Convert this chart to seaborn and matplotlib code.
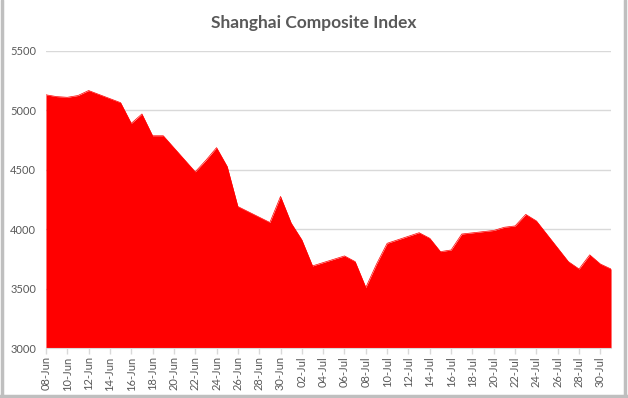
import pandas as pd
import numpy as np
import seaborn as sns
import matplotlib.pyplot as plt
import matplotlib.dates as mdates
from matplotlib.lines import Line2D

# trading days, Jun-Jul 2015
dates = ['2015-06-08','2015-06-09','2015-06-10','2015-06-11','2015-06-12',
         '2015-06-15','2015-06-16','2015-06-17','2015-06-18','2015-06-19',
         '2015-06-22','2015-06-23','2015-06-24','2015-06-25','2015-06-26',
         '2015-06-29','2015-06-30','2015-07-01','2015-07-02','2015-07-03',
         '2015-07-06','2015-07-07','2015-07-08','2015-07-09','2015-07-10',
         '2015-07-13','2015-07-14','2015-07-15','2015-07-16','2015-07-17',
         '2015-07-20','2015-07-21','2015-07-22','2015-07-23','2015-07-24',
         '2015-07-27','2015-07-28','2015-07-29','2015-07-30','2015-07-31']
close = [5128, 5113, 5107, 5122, 5164,
         5062, 4888, 4967, 4784, 4784,
         4481, 4578, 4684, 4525, 4189,
         4055, 4274, 4050, 3909, 3690,
         3774, 3726, 3509, 3705, 3880,
         3969, 3922, 3810, 3824, 3958,
         3988, 4015, 4026, 4123, 4068,
         3726, 3664, 3783, 3706, 3664]
yticks = [3000, 3500, 4000, 4500, 5000, 5500]

d = pd.DataFrame({'date': pd.to_datetime(dates), 'close': close})

sns.set_style('white')
plt.rcParams['font.family'] = ['Lato', 'DejaVu Sans']

fig = plt.figure(figsize=(6.28, 3.98), dpi=100)
ax = fig.add_axes([0.0732, 0.1256, 0.8998, 0.7474])

ax.fill_between(d['date'], d['close'], 3000, color='#FF0000', linewidth=0, zorder=2)
sns.lineplot(data=d, x='date', y='close', color='#FF0000', linewidth=0.5, ax=ax, zorder=3)

ax.set_ylim(3000, 5500)
ax.set_xlim(d['date'].iloc[0], d['date'].iloc[-1])
ax.set_yticks(yticks)
ax.set_yticklabels([str(v) for v in yticks])
ax.yaxis.grid(True, color='#d9d9d9', linewidth=1, zorder=0)
ax.set_axisbelow(True)

tick_dates = pd.date_range('2015-06-08', '2015-07-31', freq='2D')
ax.set_xticks(tick_dates)
ax.xaxis.set_major_formatter(mdates.DateFormatter('%d-%b'))
plt.setp(ax.get_xticklabels(), rotation=90)

ax.tick_params(axis='x', which='major', length=4, width=1, color='#d9d9d9',
               labelsize=8, labelcolor='#595959', pad=2, bottom=True, direction='out')
ax.tick_params(axis='y', length=0, labelsize=8, labelcolor='#595959', pad=7)
for s in ['top', 'right', 'left']:
    ax.spines[s].set_visible(False)
ax.spines['bottom'].set_color('#d9d9d9')
ax.set_xlabel('')
ax.set_ylabel('')

fig.text(0.5, 0.943, 'Shanghai Composite Index', ha='center', va='center',
         fontsize=12.5, fontweight='bold', color='#595959')

# outer chart border
for xs, ys in [([0.003, 0.003], [0, 1]), ([0.995, 0.995], [0, 1]), ([0, 1], [0.006, 0.006])]:
    fig.add_artist(Line2D(xs, ys, transform=fig.transFigure, color='#bfbfbf', linewidth=2.5))

fig.savefig('out.png', dpi=100)
